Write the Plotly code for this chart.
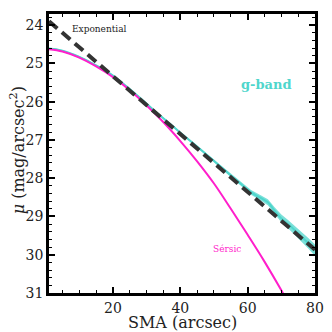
import plotly.graph_objects as go

# g-band surface brightness profile
sma_g = [1, 3, 5, 8, 10, 13, 16, 20, 24, 28, 32, 36, 40, 44, 48, 52, 55, 58,
         61, 64, 66, 68, 70, 72, 74, 76, 78, 80]
mu_g = [24.61, 24.63, 24.67, 24.76, 24.83, 24.96, 25.10, 25.32, 25.60, 25.90,
        26.21, 26.51, 26.81, 27.10, 27.40, 27.70, 27.93, 28.15, 28.37, 28.52,
        28.63, 28.85, 29.05, 29.20, 29.36, 29.53, 29.70, 29.88]
err_g = [0.02, 0.02, 0.02, 0.02, 0.02, 0.02, 0.02, 0.02, 0.02, 0.02, 0.02,
         0.02, 0.02, 0.03, 0.03, 0.04, 0.05, 0.05, 0.06, 0.07, 0.08, 0.09,
         0.10, 0.11, 0.12, 0.13, 0.14, 0.15]

# Sersic model
sma_ser = [1, 5, 10, 15, 20, 25, 30, 35, 40, 45, 50, 55, 60, 65, 70, 72]
mu_ser = [24.63, 24.69, 24.85, 25.08, 25.36, 25.70, 26.10, 26.54, 27.03,
          27.56, 28.14, 28.80, 29.48, 30.18, 30.93, 31.25]

# Exponential model
sma_exp = [1, 80]
mu_exp = [23.9, 29.87]

SERIF = "'DejaVu Serif', 'Liberation Serif', serif"
CYAN = "#4fd6cc"
MAGENTA = "#ff1ecb"

fig = go.Figure()

upper = [m - e for m, e in zip(mu_g, err_g)]
lower = [m + e for m, e in zip(mu_g, err_g)]

# error band
fig.add_trace(go.Scatter(
    x=sma_g + sma_g[::-1], y=upper + lower[::-1],
    fill="toself", fillcolor="rgba(79,214,204,0.75)",
    line=dict(width=0), mode="lines", showlegend=False,
))

# data
fig.add_trace(go.Scatter(
    x=sma_g, y=mu_g, mode="lines",
    line=dict(color=CYAN, width=2, shape="spline"),
    showlegend=False,
))

# Sersic
fig.add_trace(go.Scatter(
    x=sma_ser, y=mu_ser, mode="lines",
    line=dict(color=MAGENTA, width=2, shape="spline"),
    showlegend=False,
))

# Exponential
fig.add_trace(go.Scatter(
    x=sma_exp, y=mu_exp, mode="lines",
    line=dict(color="#333333", width=4, dash="11px,6px"),
    showlegend=False,
))

fig.add_annotation(x=16, y=24.09, text="Exponential", showarrow=False,
                   font=dict(family=SERIF, size=9, color="#222"))
fig.add_annotation(x=65.5, y=25.55, text="<b>g-band</b>", showarrow=False,
                   font=dict(family=SERIF, size=13, color=CYAN))
fig.add_annotation(x=53.9, y=29.86, text="Sérsic", showarrow=False,
                   font=dict(family=SERIF, size=9, color=MAGENTA))

# axis titles placed by hand
fig.add_annotation(x=0.5, y=-0.106, xref="paper", yref="paper",
                   text="SMA (arcsec)", showarrow=False, yanchor="middle",
                   font=dict(family=SERIF, size=16, color="#222"))
fig.add_annotation(x=-0.118, y=0.51, xref="paper", yref="paper", textangle=-90,
                   text="<i>μ</i> (mag/arcsec<sup>2</sup>)", showarrow=False,
                   xanchor="center", yanchor="middle",
                   font=dict(family=SERIF, size=16, color="#222"))

axis_common = dict(
    showgrid=False, zeroline=False, automargin=False,
    showline=True, linecolor="black", linewidth=2.5, mirror="allticks",
    ticks="inside", ticklen=6, tickwidth=1.5, tickcolor="black",
    tickfont=dict(family=SERIF, size=14, color="#222"),
)

# page body keeps an 8px margin, so the figure is 324 px and offset by it
fig.update_layout(
    width=324, height=324,
    margin=dict(l=41, r=17, t=6, b=39),
    paper_bgcolor="white", plot_bgcolor="white",
    font=dict(family=SERIF),
    xaxis=dict(
        **axis_common,
        range=[1, 80], tickvals=[20, 40, 60, 80],
        minor=dict(dtick=5, tick0=0, ticks="inside", ticklen=3, tickwidth=1, tickcolor="black"),
    ),
    yaxis=dict(
        **axis_common,
        range=[31, 23.71], dtick=1,
        minor=dict(dtick=0.2, tick0=0, ticks="inside", ticklen=3, tickwidth=1, tickcolor="black"),
    ),
)

fig.write_html("out.html")
